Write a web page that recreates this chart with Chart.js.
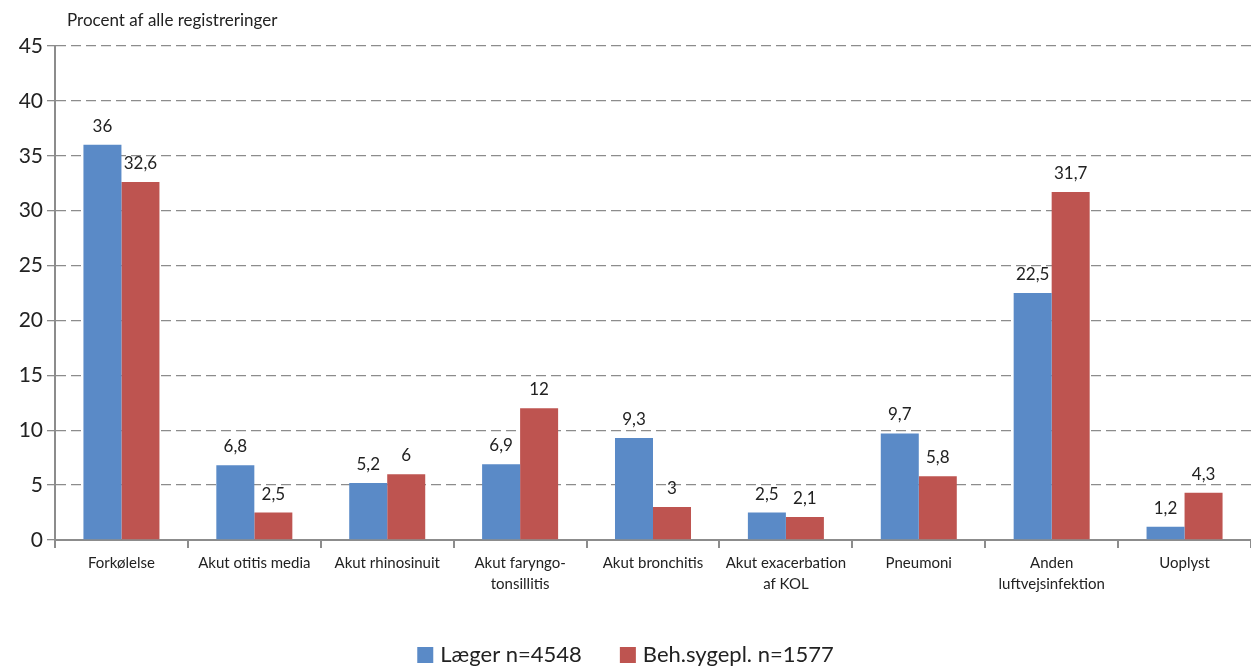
<!DOCTYPE html>
<html>
<head>
<meta charset="utf-8">
<script src="https://cdn.jsdelivr.net/npm/chart.js@4"></script>
<style>
  html, body { margin: 0; padding: 0; background: #fff; }
  #wrap { width: 1251px; height: 668px; position: relative; }
</style>
</head>
<body>
<div id="wrap"><canvas id="c"></canvas></div>
<script>
// Data
const categories = [
    'Forkølelse',
    'Akut otitis media',
    'Akut rhinosinuit',
    ['Akut faryngo-', 'tonsillitis'],
    'Akut bronchitis',
    ['Akut exacerbation', 'af KOL'],
    'Pneumoni',
    ['Anden', 'luftvejsinfektion'],
    'Uoplyst'
];
const laeger = [36, 6.8, 5.2, 6.9, 9.3, 2.5, 9.7, 22.5, 1.2];
const sygepl = [32.6, 2.5, 6, 12, 3, 2.1, 5.8, 31.7, 4.3];
const seriesNames = ['Læger n=4548', 'Beh.sygepl. n=1577'];
const yTitle = 'Procent af alle registreringer';

const blue = '#5A8AC7';
const red = '#BE5450';
const axisGray = '#8C8C8C';
const textCol = '#222';
const fontFam = 'Lato, "Open Sans", sans-serif';

const fmt = v => String(v).replace('.', ',');

// value labels above bars, the little axis title up top, and the legend at the bottom
const labelsPlugin = {
    id: 'barLabels',
    afterDatasetsDraw(chart) {
        const ctx = chart.ctx;
        ctx.save();
        ctx.font = '17px ' + fontFam;
        ctx.fillStyle = textCol;
        ctx.textAlign = 'center';
        ctx.textBaseline = 'bottom';
        chart.data.datasets.forEach((ds, i) => {
            chart.getDatasetMeta(i).data.forEach((bar, j) => {
                ctx.fillText(fmt(ds.data[j]), bar.x, bar.y - 10);
            });
        });
        ctx.textAlign = 'left';
        ctx.textBaseline = 'middle';
        ctx.fillText(yTitle, chart.chartArea.left + 12, 21);

        // legend
        ctx.font = '22px ' + fontFam;
        const box = 16, gapTxt = 7, gapItem = 38, cy = 655;
        const items = chart.data.datasets.map(ds => ({
            text: ds.label, color: ds.backgroundColor, w: ctx.measureText(ds.label).width
        }));
        let total = 0;
        items.forEach((it, k) => { total += box + gapTxt + it.w + (k ? gapItem : 0); });
        let x = (chart.width - total) / 2;
        items.forEach(it => {
            ctx.fillStyle = it.color;
            ctx.fillRect(x, cy - box / 2, box, box);
            ctx.fillStyle = textCol;
            ctx.fillText(it.text, x + box + gapTxt, cy);
            x += box + gapTxt + it.w + gapItem;
        });
        ctx.restore();
    }
};

new Chart(document.getElementById('c'), {
    type: 'bar',
    data: {
        labels: categories,
        datasets: [
            { label: seriesNames[0], data: laeger, backgroundColor: blue },
            { label: seriesNames[1], data: sygepl, backgroundColor: red }
        ]
    },
    options: {
        responsive: true,
        maintainAspectRatio: false,
        animation: false,
        datasets: { bar: { barPercentage: 1, categoryPercentage: 0.572 } },
        layout: { padding: { top: 46, right: 0, left: 0, bottom: 0 } },
        plugins: {
            tooltip: { enabled: false },
            legend: { display: false }
        },
        scales: {
            x: {
                offset: true,
                border: { color: axisGray, width: 2 },
                grid: { offset: true, drawOnChartArea: false, drawTicks: true, tickLength: 8, color: axisGray, lineWidth: 2 },
                ticks: { color: textCol, font: { family: fontFam, size: 15, lineHeight: 1.45 }, maxRotation: 0, autoSkip: false, padding: 4 },
                afterFit: s => { s.height = 128; }
            },
            y: {
                min: 0,
                max: 45,
                border: { color: axisGray, width: 2, dash: [10, 5] },
                grid: { color: axisGray, lineWidth: 1.3, tickLength: 8, drawTicks: true },
                ticks: { stepSize: 5, color: textCol, font: { family: fontFam, size: 21 }, padding: 4 },
                afterFit: s => { s.width = 55; }
            }
        }
    },
    plugins: [labelsPlugin]
});
</script>
</body>
</html>
